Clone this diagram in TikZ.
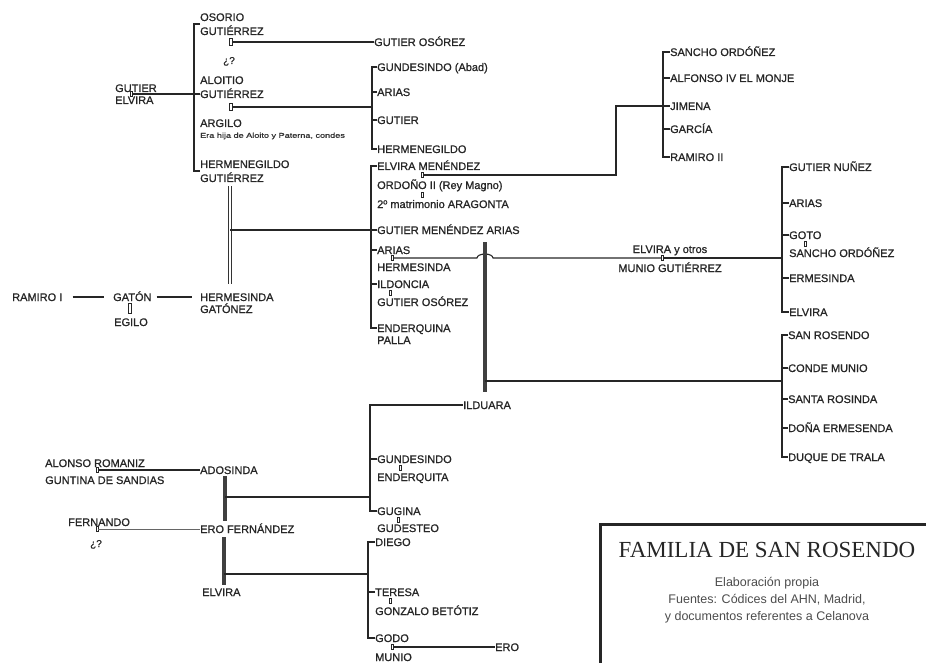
\documentclass[tikz,border=0pt]{standalone}
\usepackage{fontspec}
\setmainfont{Liberation Sans}
\newfontfamily\namefont{Liberation Sans}[FakeBold=0.9]
\newfontfamily\titlefont{Liberation Serif}
\usetikzlibrary{positioning, calc}

\begin{document}
\begin{tikzpicture}[
  x=1pt, y=-1pt,
  person/.style={anchor=west, inner sep=0pt, text height=8pt, text depth=0pt,
                 font=\namefont\fontsize{11}{12}\selectfont, text=black!85},
  note/.style={anchor=west, inner sep=0pt, font=\namefont\fontsize{7}{8}\selectfont, text=black!80},
  link/.style={draw=black!85, line width=1.1pt},
  faint/.style={draw=black!60, line width=0.7pt},
  wed/.style={draw=black!85, fill=white, line width=0.8pt, rectangle, inner sep=0pt,
              minimum width=2.6pt, minimum height=7pt},
  wedsm/.style={wed, line width=0.6pt, minimum width=1.8pt, minimum height=4.5pt},
  union/.style={draw=black!75, line width=3.2pt},
  twin/.style={draw=black!80, double, double distance=2.2pt, line width=0.7pt}
]
  \useasboundingbox (0,0) rectangle (926,663);

  \node[person] (gutier)    at (115,88)  {GUTIER};
  \node[person] (elvira)    at (115,100) {ELVIRA};
  \node[wedsm]  (m0)        at (131,94)  {};
  \node[person] (osorio)    at (200,17)  {OSORIO};
  \node[person] (osorio-b)  at (200,31)  {GUTIÉRREZ};
  \node[wed]    (m1)        at (231,42)  {};
  \node[person, font=\namefont\fontsize{10}{11}\selectfont, anchor=center] (q1) at (229,60) {¿?};
  \node[person] (gosorez)   at (374,42)  {GUTIER OSÓREZ};
  \node[person] (aloitio)   at (200,80)  {ALOITIO};
  \node[person] (aloitio-b) at (200,94)  {GUTIÉRREZ};
  \node[wed]    (m2)        at (231,107) {};
  \node[person] (argilo)    at (200,123) {ARGILO};
  \node[note]   (argilo-n)  at (200,136) {\scalebox{1.3}[1]{Era hija de Aloito y Paterna, condes}};
  \node[person] (hermen)    at (200,164) {HERMENEGILDO};
  \node[person] (hermen-b)  at (200,178) {GUTIÉRREZ};

  \node[person] (gundesindo) at (377,67)  {GUNDESINDO (Abad)};
  \node[person] (arias1)     at (377,92)  {ARIAS};
  \node[person] (gutier1)    at (377,120) {GUTIER};
  \node[person] (hermen1)    at (377,149) {HERMENEGILDO};

  \node[person] (ramiro)       at (12,297)  {RAMIRO I};
  \node[person] (gaton)        at (113,297) {GATÓN};
  \node[wed, minimum height=10pt, minimum width=3pt] (m15) at (130,308) {};
  \node[person, anchor=center] (egilo) at (131,322) {EGILO};
  \node[person] (hermesinda)   at (200,297) {HERMESINDA};
  \node[person] (hermesinda-b) at (200,309) {GATÓNEZ};

  \node[person] (elviram)      at (377,166) {ELVIRA MENÉNDEZ};
  \node[wedsm]  (m3)           at (422,175) {};
  \node[person] (ordono)       at (377,185) {ORDOÑO II (Rey Magno)};
  \node[wedsm]  (m4)           at (422,195) {};
  \node[person] (aragonta)     at (377,204) {2º matrimonio ARAGONTA};
  \node[person] (gma)          at (377,230) {GUTIER MENÉNDEZ ARIAS};
  \node[person] (arias2)       at (377,250) {ARIAS};
  \node[wedsm]  (m5)           at (392,258) {};
  \node[person] (hermesinda2)  at (377,267) {HERMESINDA};
  \node[person] (ildoncia)     at (377,284) {ILDONCIA};
  \node[wedsm]  (m6)           at (390,293) {};
  \node[person] (gosorez2)     at (377,302) {GUTIER OSÓREZ};
  \node[person] (enderquina)   at (377,328) {ENDERQUINA};
  \node[person] (enderquina-b) at (377,340) {PALLA};

  \node[person] (sancho)   at (670,52)  {SANCHO ORDÓÑEZ};
  \node[person] (alfonso)  at (670,78)  {ALFONSO IV EL MONJE};
  \node[person] (jimena)   at (670,106) {JIMENA};
  \node[person] (garcia)   at (670,129) {GARCÍA};
  \node[person] (ramiro2)  at (670,157) {RAMIRO II};

  \node[person, anchor=center] (elvirao) at (670,249) {ELVIRA y otros};
  \node[wedsm]                 (m8)      at (662,258) {};
  \node[person, anchor=center] (munio)   at (670,268) {MUNIO GUTIÉRREZ};

  \node[person] (gnunez)    at (789,167) {GUTIER NUÑEZ};
  \node[person] (arias3)    at (789,203) {ARIAS};
  \node[person] (goto)      at (789,235) {GOTO};
  \node[wedsm]  (m7)        at (805,244) {};
  \node[person] (sancho2)   at (789,253) {SANCHO ORDÓÑEZ};
  \node[person] (ermesinda) at (789,278) {ERMESINDA};
  \node[person] (elvira3)   at (789,312) {ELVIRA};

  \node[person] (sanrosendo)   at (788,335) {SAN ROSENDO};
  \node[person] (condemunio)   at (788,368) {CONDE MUNIO};
  \node[person] (santarosinda) at (788,399) {SANTA ROSINDA};
  \node[person] (dona)         at (788,428) {DOÑA ERMESENDA};
  \node[person] (duque)        at (788,457) {DUQUE DE TRALA};

  \node[person] (ilduara)     at (463,405) {ILDUARA};
  \node[person] (gundesindo2) at (377,459) {GUNDESINDO};
  \node[wedsm]  (m9)          at (400,468) {};
  \node[person] (enderquita)  at (377,477) {ENDERQUITA};
  \node[person] (gugina)      at (377,511) {GUGINA};
  \node[wedsm]  (m10)         at (398,520) {};
  \node[person] (gudesteo)    at (377,528) {GUDESTEO};

  \node[person] (alonso)   at (45,463)  {ALONSO ROMANIZ};
  \node[wedsm]  (m11)      at (97,470)  {};
  \node[person] (guntina)  at (45,480)  {GUNTINA DE SANDIAS};
  \node[person] (adosinda) at (200,470) {ADOSINDA};
  \node[person] (fernando) at (68,522)  {FERNANDO};
  \node[wedsm]  (m12)      at (97,529)  {};
  \node[person, font=\namefont\fontsize{10}{11}\selectfont, anchor=center] (q2) at (96,543) {¿?};
  \node[person] (erof)     at (200,529) {ERO FERNÁNDEZ};
  \node[person] (elvira4)  at (202,592) {ELVIRA};

  \node[person] (diego)   at (375,542) {DIEGO};
  \node[person] (teresa)  at (375,592) {TERESA};
  \node[wedsm]  (m13)     at (390,601) {};
  \node[person] (gonzalo) at (375,611) {GONZALO BETÓTIZ};
  \node[person] (godo)    at (375,638) {GODO};
  \node[wedsm]  (m14)     at (392,647) {};
  \node[person] (munio2)  at (375,657) {MUNIO};
  \node[person] (ero)     at (495,647) {ERO};

  \coordinate (b1t) at (194,24);
  \coordinate (b1b) at (194,171);
  \coordinate (b2t) at (372,67);
  \coordinate (b2b) at (372,149);
  \coordinate (b3t) at (371,166);
  \coordinate (b3b) at (371,328);
  \coordinate (b4t) at (663,52);
  \coordinate (b4b) at (663,157);
  \coordinate (b5t) at (782,167);
  \coordinate (b5b) at (782,312);
  \coordinate (b6t) at (782,335);
  \coordinate (b6b) at (782,457);
  \coordinate (b7t) at (370,405);
  \coordinate (b7b) at (370,511);
  \coordinate (b8t) at (368,542);
  \coordinate (b8b) at (368,638);
  \coordinate (hj)  at (230,230);
  \coordinate (k1)  at (616,106);
  \coordinate (hop) at (485,258);
  \coordinate (tv)  at (485,381);
  \coordinate (ae)  at (225,497);
  \coordinate (ee)  at (224,574);

  \draw[link] (osorio.west |- b1t) -- (b1t) -- (b1b) -- (hermen.west |- b1b);
  \draw[link] (m0) -- (aloitio-b);
  \draw[link] (m1) -- (gosorez);
  \draw[link] (gundesindo) -- (b2t) -- (b2b) -- (hermen1);
  \draw[link] (m2) -- (m2 -| b2t);
  \foreach \kid in {arias1, gutier1}
    \draw[link] (\kid) -- (\kid -| b2t);

  \draw[twin, shorten <=4pt, shorten >=9pt] (hermen-b.south -| hj) -- (hermesinda.north -| hj);
  \draw[link] (hj) -- (gma);
  \draw[link, shorten <=10pt, shorten >=9pt] (ramiro) -- (gaton);
  \draw[link, shorten <=5pt, shorten >=8pt] (gaton) -- (hermesinda);

  \draw[link] (elviram) -- (b3t) -- (b3b) -- (enderquina);
  \foreach \kid in {arias2, ildoncia}
    \draw[link] (\kid) -- (\kid -| b3t);
  \draw[link] (m3) -| (k1) -- (jimena);
  \draw[link] (sancho) -- (b4t) -- (b4b) -- (ramiro2);
  \foreach \kid in {alfonso, garcia}
    \draw[link] (\kid) -- (\kid -| b4t);

  \draw[link] (m5) -- ([xshift=-8pt]hop) arc[start angle=180, end angle=360, x radius=8, y radius=4] -- (m8);
  \draw[link] (m8) -- (m8 -| b5t);
  \draw[link] (gnunez) -- (b5t) -- (b5b) -- (elvira3);
  \foreach \kid in {arias3, goto, ermesinda}
    \draw[link] (\kid) -- (\kid -| b5t);

  \draw[union, shorten <=8pt, shorten >=9pt] (gma.south -| tv) -- (ilduara.north -| tv);
  \draw[link] (tv) -- (tv -| b6t);
  \draw[link] (sanrosendo) -- (b6t) -- (b6b) -- (duque);
  \foreach \kid in {condemunio, santarosinda, dona}
    \draw[link] (\kid) -- (\kid -| b6t);

  \draw[link] (ilduara) -- (b7t) -- (b7b) -- (gugina);
  \draw[link] (gundesindo2) -- (gundesindo2 -| b7t);
  \draw[link] (m11) -- (adosinda);
  \draw[faint] (m12) -- (erof);
  \draw[union, shorten <=2pt, shorten >=4pt] (adosinda.south -| ae) -- (erof.north -| ae);
  \draw[link] (ae) -- (ae -| b7t);
  \draw[union, shorten <=4pt, shorten >=3pt] (erof.south -| ee) -- (elvira4.north -| ee);
  \draw[link] (ee) -- (ee -| b8t);
  \draw[link] (diego) -- (b8t) -- (b8b) -- (godo);
  \draw[link] (teresa) -- (teresa -| b8t);
  \draw[link] (m14) -- (ero);

  \draw[line width=3pt, black!85] (600,670) -- (600,524) -- (932,524);
  \node[font=\titlefont\fontsize{23}{24}\selectfont, text=black!85] (title) at (767,550) {FAMILIA DE SAN ROSENDO};
  \node[align=center, font=\fontsize{12.5}{16.7}\selectfont, text=black!70] (source) at (767,600)
    {Elaboración propia\\Fuentes: Códices del AHN, Madrid,\\y documentos referentes a Celanova};
\end{tikzpicture}
\end{document}
